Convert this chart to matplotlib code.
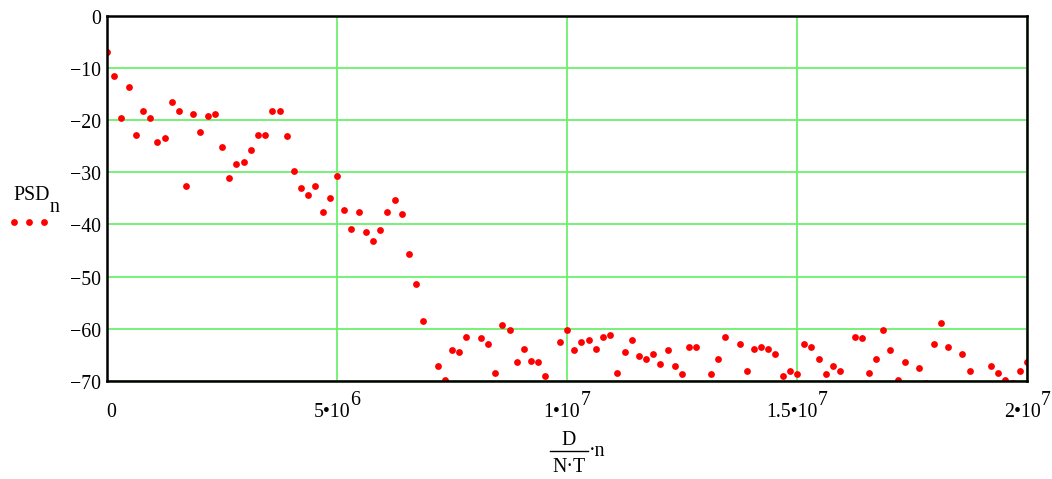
import matplotlib
matplotlib.use('Agg')
import matplotlib.pyplot as plt
import matplotlib.transforms as mtransforms
import numpy as np
from matplotlib.lines import Line2D

plt.rcParams['font.family'] = ['Liberation Serif', 'DejaVu Serif']

# ---- data ----
step = 156250.0  # D/(N*T)
n = np.arange(129)
psd = [-7.05, -11.65, -19.7, -13.6, -22.8, -18.2, -19.7, -24.3, -23.5, -16.6,
       -18.2, -32.7, -18.9, -22.4, -19.3, -18.9, -25.1, -31.2, -28.5, -28.1,
       -25.8, -22.8, -22.8, -18.2, -18.2, -23.1, -29.7, -33.1, -34.3, -32.7,
       -37.6, -35.0, -30.8, -37.3, -40.8, -37.7, -41.5, -43.1, -41.1, -37.7,
       -35.4, -38.1, -45.7, -51.5, -58.5, -75.0, -67.2, -69.9, -64.1, -64.5,
       -61.5, -75.0, -61.8, -63.0, -68.4, -59.2, -60.3, -66.4, -63.8, -66.1,
       -66.4, -69.1, -75.0, -62.6, -60.3, -64.1, -62.6, -62.2, -63.8, -61.5,
       -61.1, -68.4, -64.5, -62.2, -65.3, -65.7, -64.9, -66.8, -64.1, -67.2,
       -68.7, -63.4, -63.4, -75.0, -68.7, -65.7, -61.5, -75.0, -63.0, -68.0,
       -63.8, -63.4, -63.8, -64.9, -69.1, -68.0, -68.7, -63.0, -63.4, -65.7,
       -68.7, -67.2, -68.0, -75.0, -61.5, -61.8, -68.4, -65.7, -60.3, -64.1,
       -69.9, -66.4, -75.0, -67.6, -70.3, -63.0, -58.8, -63.4, -75.0, -64.9,
       -68.0, -75.0, -75.0, -67.2, -68.4, -69.9, -70.3, -68.0, -66.4]
x = n * step

xticks = [0, 5e6, 1e7, 1.5e7, 2e7]
xtick_base = ['0', '5\u202210', '1\u202210', '1.5\u202210', '2\u202210']
xtick_exp = ['', '6', '7', '7', '7']
yticks = [0, -10, -20, -30, -40, -50, -60, -70]

FS = 14.3
W, H = 1052, 479
fig = plt.figure(figsize=(W / 100, H / 100), dpi=100)
ax = fig.add_axes([107 / W, 1 - 381 / H, 920 / W, 365.5 / H])

ax.plot(x, psd, linestyle='none', marker='o', color='#ff0000',
        markersize=4.9, markeredgewidth=0, clip_on=True, zorder=3)

ax.set_xlim(0, 2e7)
ax.set_ylim(-70, 0)
ax.set_xticks(xticks)
ax.set_xticklabels([])
ax.set_yticks(yticks)
ax.set_yticklabels([str(v) if v == 0 else '\u2212' + str(-v) for v in yticks], fontsize=FS)
ax.tick_params(axis='both', length=0)
ax.tick_params(axis='y', pad=4)
shift = mtransforms.ScaledTranslation(0, -0.035, fig.dpi_scale_trans)
for lab in ax.get_yticklabels():
    lab.set_verticalalignment('center')
    lab.set_transform(lab.get_transform() + shift)
ax.grid(True, color='#6cf06c', linewidth=1.3, zorder=1)
ax.set_axisbelow(True)
for s in ax.spines.values():
    s.set_linewidth(1.8)
    s.set_color('black')
    s.set_zorder(4)

# x tick labels with full-size raised exponents
trans = mtransforms.blended_transform_factory(ax.transData, ax.transAxes)
pairs = []
for xv, b, e in zip(xticks, xtick_base, xtick_exp):
    t1 = ax.annotate(b, xy=(xv, 0), xycoords=trans, xytext=(0, -36),
                     textcoords='offset pixels', ha='left', va='baseline',
                     fontsize=FS, annotation_clip=False)
    t2 = ax.annotate(e, xy=(xv, 0), xycoords=trans, xytext=(0, -24),
                     textcoords='offset pixels', ha='left', va='baseline',
                     fontsize=FS, annotation_clip=False)
    pairs.append((t1, t2))
fig.canvas.draw()
r = fig.canvas.get_renderer()
for t1, t2 in pairs:
    w1 = t1.get_window_extent(r).width
    w2 = t2.get_window_extent(r).width if t2.get_text() else 0
    tot = w1 + w2
    dx = 4 if not t2.get_text() else 0
    t1.set_position((-tot / 2 + dx, -36))
    t2.set_position((-tot / 2 + w1, -24))

# y label with legend symbol
fig.text(13 / W, 1 - 200 / H, 'PSD', fontsize=FS, va='baseline', ha='left')
fig.text(50 / W, 1 - 212 / H, 'n', fontsize=FS, va='baseline', ha='left')
fig.add_artist(Line2D(np.array([14, 29, 44]) / W, [1 - 222 / H] * 3,
                      linestyle='none', marker='o', color='#ff0000',
                      markersize=4.9, markeredgewidth=0, transform=fig.transFigure))

# x label: D / (N·T) · n
fig.text(569 / W, 1 - 445 / H, 'D', fontsize=FS, ha='center', va='baseline')
fig.add_artist(Line2D([550 / W, 588 / W], [1 - 451 / H] * 2, color='black',
                      linewidth=1.0, transform=fig.transFigure))
fig.text(569 / W, 1 - 472 / H, 'N\u00b7T', fontsize=FS, ha='center', va='baseline')
fig.text(589 / W, 1 - 456 / H, '\u00b7n', fontsize=FS, ha='left', va='baseline')

fig.savefig('out.png', dpi=100)
